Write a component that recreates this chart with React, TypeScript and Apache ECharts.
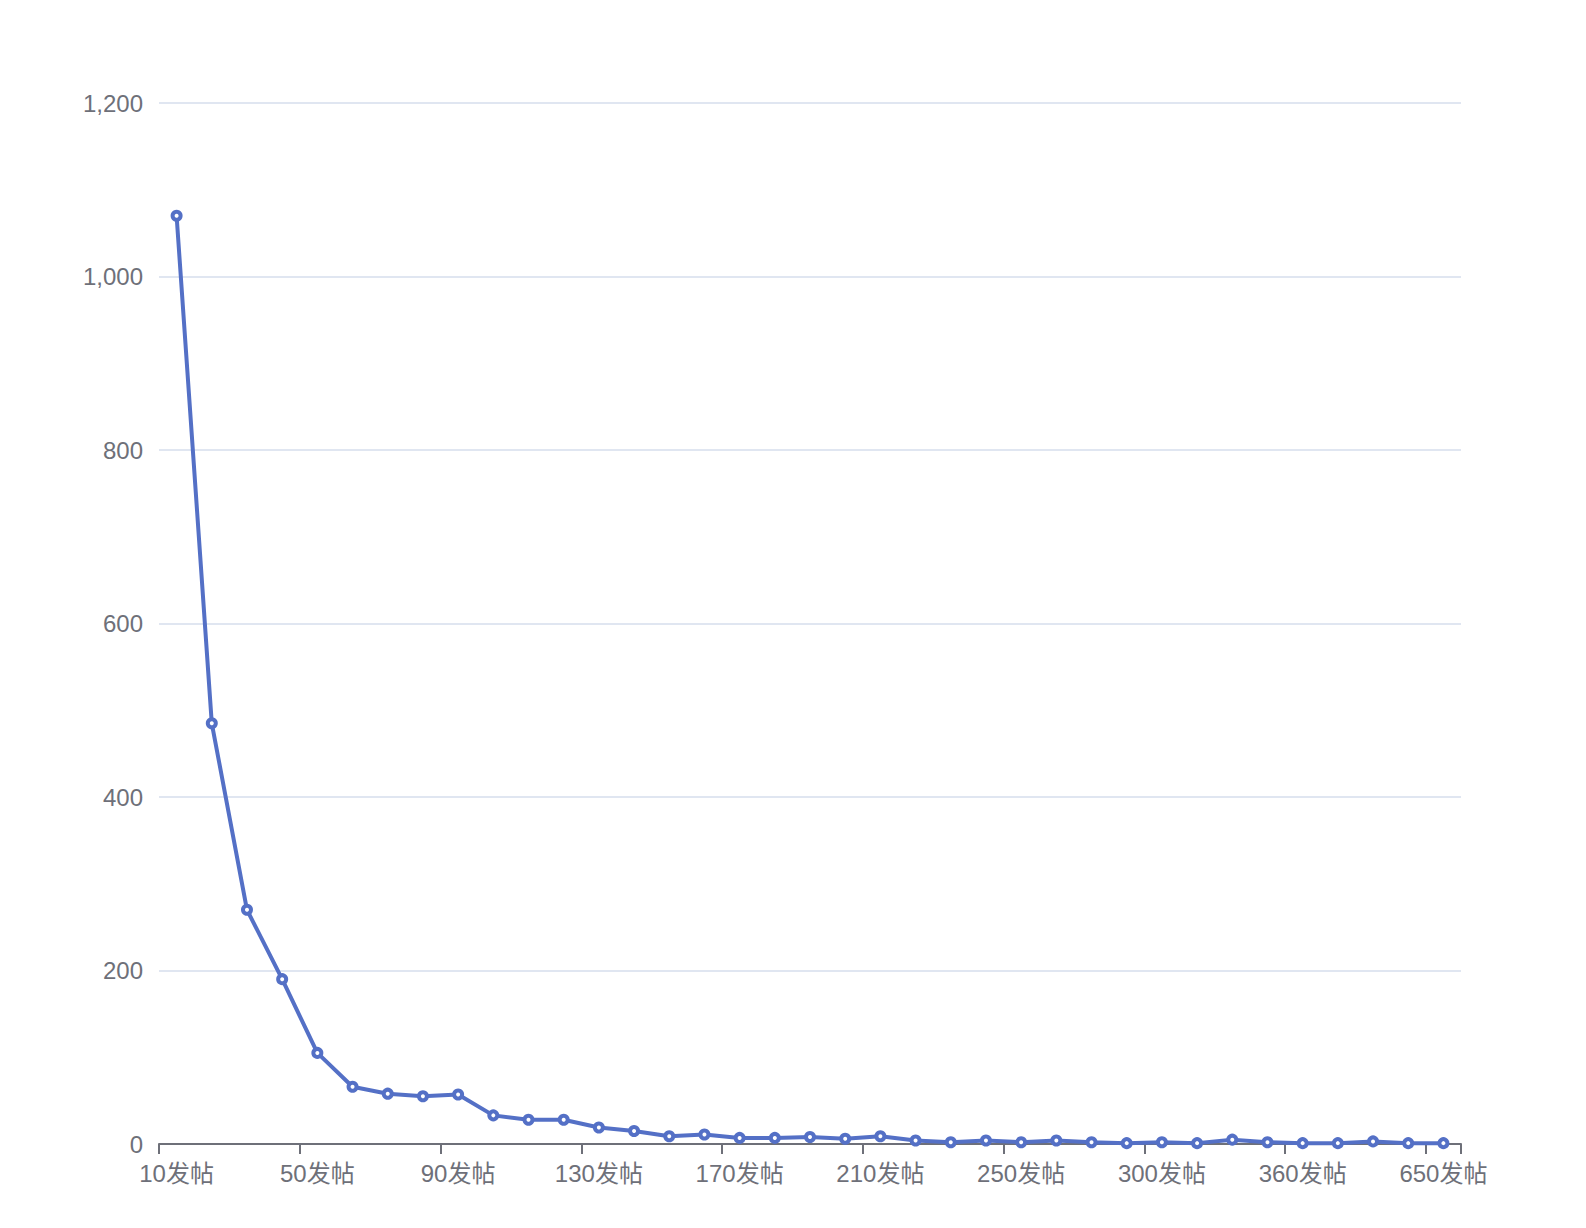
import React, { useEffect, useRef } from "react";
import * as echarts from "echarts";

const categories: string[] = [
  "10发帖", "20发帖", "30发帖", "40发帖", "50发帖", "60发帖", "70发帖", "80发帖",
  "90发帖", "100发帖", "110发帖", "120发帖", "130发帖", "140发帖", "150发帖", "160发帖",
  "170发帖", "180发帖", "190发帖", "200发帖", "210发帖", "220发帖", "230发帖", "240发帖",
  "250发帖", "260发帖", "270发帖", "280发帖", "300发帖", "310发帖", "320发帖", "340发帖",
  "360发帖", "380发帖", "420发帖", "500发帖", "650发帖",
];

const values: number[] = [
  1070, 485, 270, 190, 105, 66, 58, 55,
  57, 33, 28, 28, 19, 15, 9, 11,
  7, 7, 8, 6, 9, 4, 2, 4,
  2, 4, 2, 1, 2, 1, 5, 2,
  1, 1, 3, 1, 1,
];

const yMax = 1200;
const yInterval = 200;

const textColor = "#6E7079";
const fontFamily = "'Liberation Sans', 'Noto Sans CJK SC', sans-serif";

export default function App() {
  const ref = useRef<HTMLDivElement>(null);

  useEffect(() => {
    if (!ref.current) return;
    const chart = echarts.init(ref.current, undefined, { renderer: "svg" });
    chart.setOption({
      animation: false,
      grid: { left: 159, right: 125, top: 103, bottom: 84 },
      xAxis: {
        type: "category",
        data: categories,
        boundaryGap: true,
        axisLine: { show: true, lineStyle: { color: textColor, width: 2 } },
        axisTick: {
          show: true,
          length: 10,
          interval: 3,
          lineStyle: { color: textColor, width: 2 },
        },
        axisLabel: {
          interval: 3,
          color: textColor,
          fontSize: 24,
          fontFamily,
          margin: 17,
        },
      },
      yAxis: {
        type: "value",
        min: 0,
        max: yMax,
        interval: yInterval,
        axisLabel: { color: textColor, fontSize: 24, fontFamily, margin: 16 },
        splitLine: { lineStyle: { color: "#E0E6F1", width: 2 } },
      },
      series: [
        {
          type: "line",
          data: values,
          symbol: "circle",
          symbolSize: 8,
          lineStyle: { color: "#5470c6", width: 4 },
          itemStyle: { color: "#ffffff", borderColor: "#5470c6", borderWidth: 4 },
        },
      ],
    });
    return () => chart.dispose();
  }, []);

  return (
    <div
      ref={ref}
      style={{ position: "absolute", left: 0, top: 0, width: 1586, height: 1228 }}
    />
  );
}
